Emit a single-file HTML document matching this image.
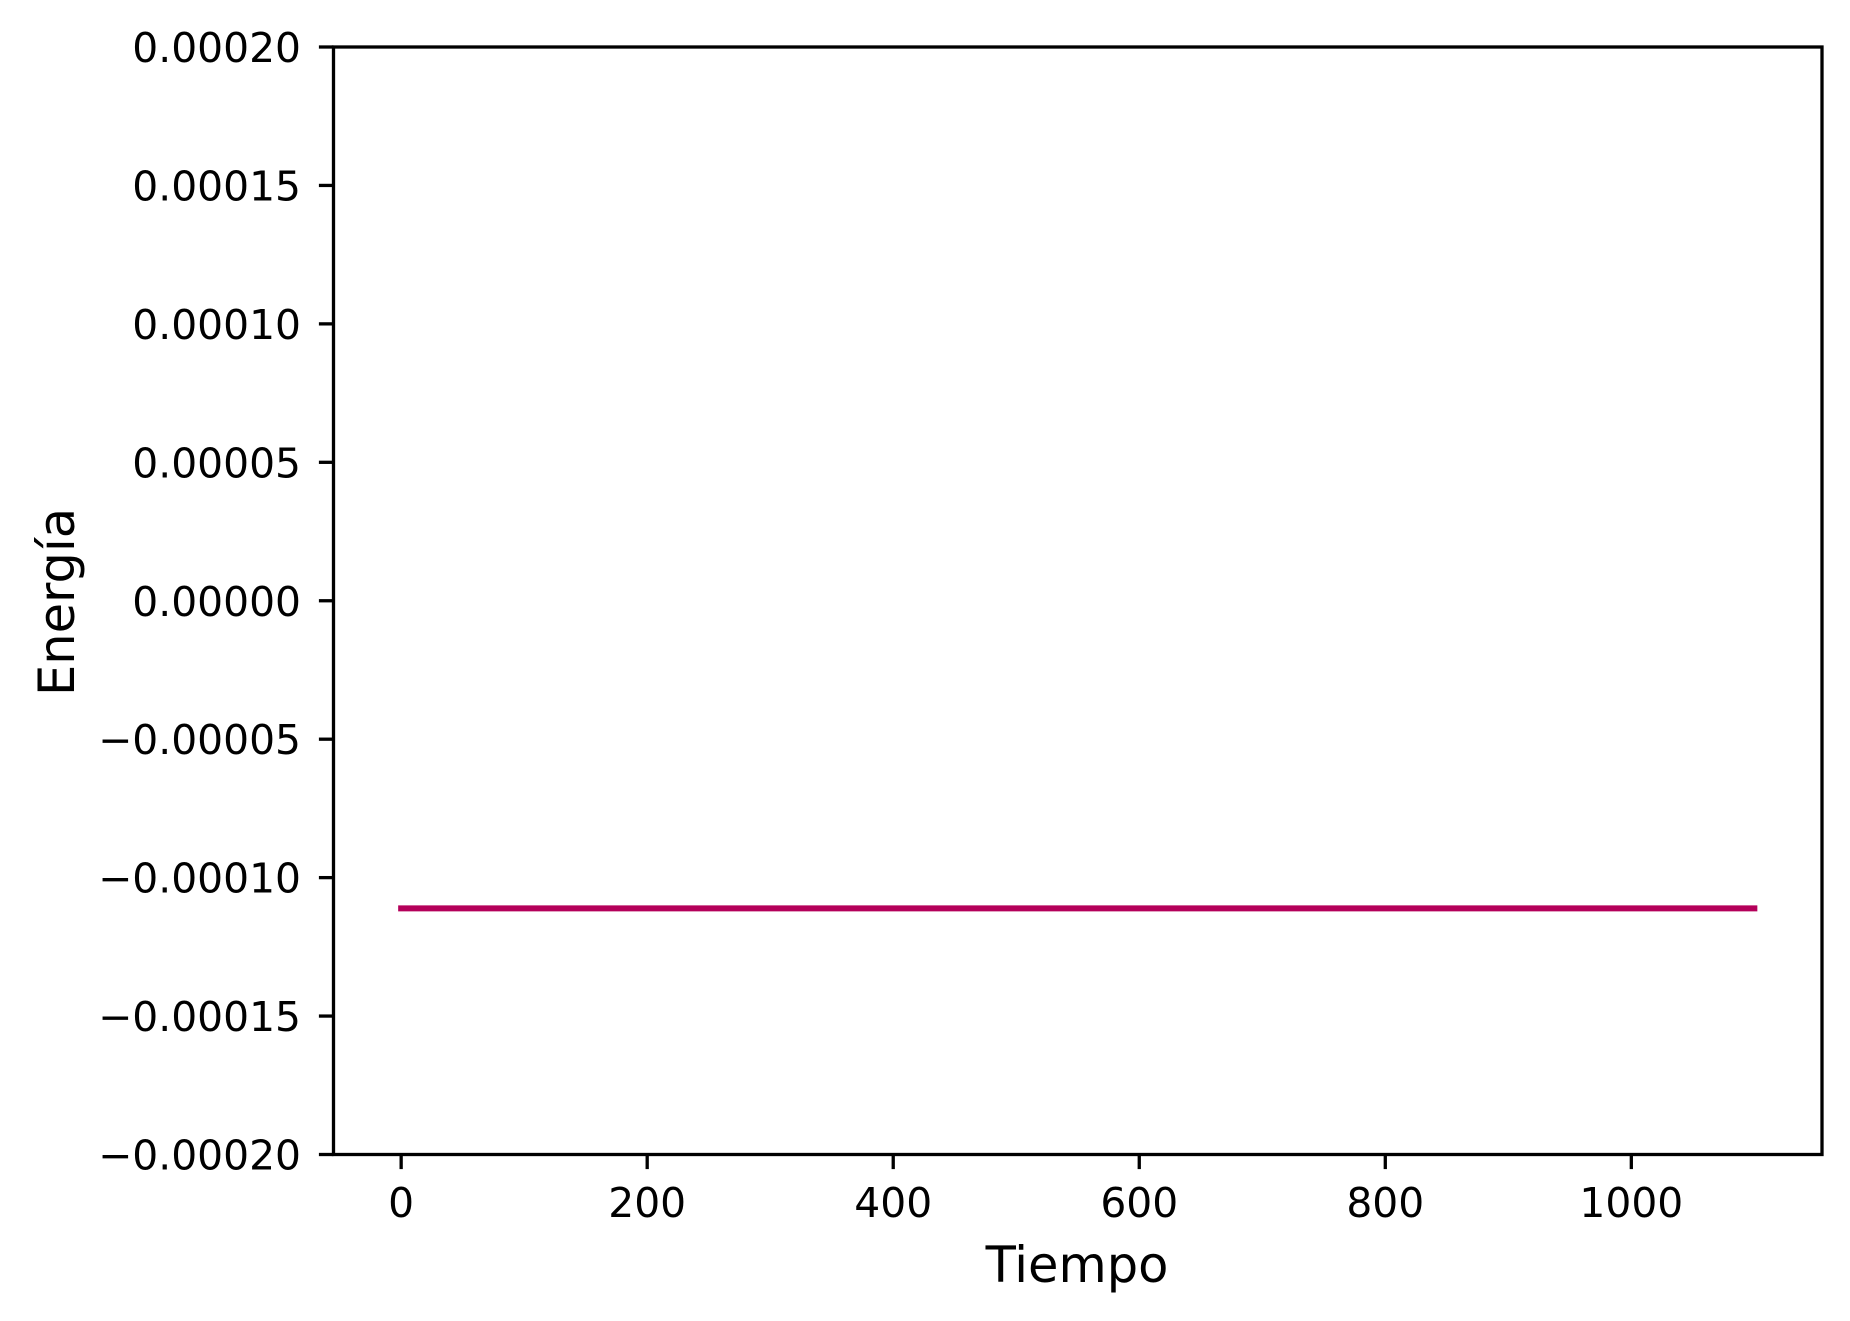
<!DOCTYPE html>
<html><head><meta charset="utf-8"><style>
html,body{margin:0;padding:0;background:#fff;}
svg{display:block;font-family:"DejaVu Sans","Liberation Sans",sans-serif;}
</style></head><body>
<svg id="chart" width="1850" height="1321" viewBox="0 0 1850 1321" xmlns="http://www.w3.org/2000/svg">
<rect width="1850" height="1321" fill="#fff"/>
<g id="ticks"></g>
<g id="series"></g>
<rect x="333.5" y="47" width="1488.5" height="1107.5" fill="none" stroke="#000" stroke-width="3.3"/>
<text x="1077" y="1282" font-size="49.5" text-anchor="middle">Tiempo</text>
<text transform="translate(74,602) rotate(-90)" font-size="49.5" text-anchor="middle">Energía</text>
</svg>
<script>
const xTicks = [0, 200, 400, 600, 800, 1000];
const yTicks = [0.0002, 0.00015, 0.0001, 0.00005, 0, -0.00005, -0.0001, -0.00015, -0.0002];
const yTickLabels = ["0.00020","0.00015","0.00010","0.00005","0.00000","\u22120.00005","\u22120.00010","\u22120.00015","\u22120.00020"];
const seriesT = [0, 1100];
const seriesE = [-0.0001111, -0.0001111];

const L=333.5,R=1822,T=47,B=1154.5;
const xMin=-55,xMax=1155,yMin=-0.0002,yMax=0.0002;
const sx=v=>L+(v-xMin)/(xMax-xMin)*(R-L);
const sy=v=>B-(v-yMin)/(yMax-yMin)*(B-T);
const NS="http://www.w3.org/2000/svg";
const tg=document.getElementById('ticks');
xTicks.forEach(t=>{
  const x=sx(t);
  const l=document.createElementNS(NS,'line');
  
  
  l.setAttribute('x1',x);l.setAttribute('x2',x);l.setAttribute('y1',B);l.setAttribute('y2',B+14.6);
  l.setAttribute('stroke','#000');l.setAttribute('stroke-width','3.3');
  tg.appendChild(l);
  const tx=document.createElementNS(NS,'text');
  
  
  tx.setAttribute('x',x);tx.setAttribute('y',1217);
  tx.setAttribute('font-size','40.8');tx.setAttribute('text-anchor','middle');
  tx.textContent=String(t);
  tg.appendChild(tx);
});
yTicks.forEach((t,i)=>{
  const y=sy(t);
  const l=document.createElementNS(NS,'line');
  
  
  l.setAttribute('x1',L-14.6);l.setAttribute('x2',L);l.setAttribute('y1',y);l.setAttribute('y2',y);
  l.setAttribute('stroke','#000');l.setAttribute('stroke-width','3.3');
  tg.appendChild(l);
  const tx=document.createElementNS(NS,'text');
  
  
  tx.setAttribute('x',301);tx.setAttribute('y',y+15);
  tx.setAttribute('font-size','40.8');tx.setAttribute('text-anchor','end');
  tx.textContent=yTickLabels[i];
  tg.appendChild(tx);
});
const sg=document.getElementById('series');
const p=document.createElementNS(NS,'polyline');


p.setAttribute('points',seriesT.map((t,i)=>sx(t)+','+sy(seriesE[i])).join(' '));
p.setAttribute('fill','none');p.setAttribute('stroke','#b4005a');p.setAttribute('stroke-width','6');
p.setAttribute('stroke-linecap','square');
sg.appendChild(p);
</script>
</body></html>
